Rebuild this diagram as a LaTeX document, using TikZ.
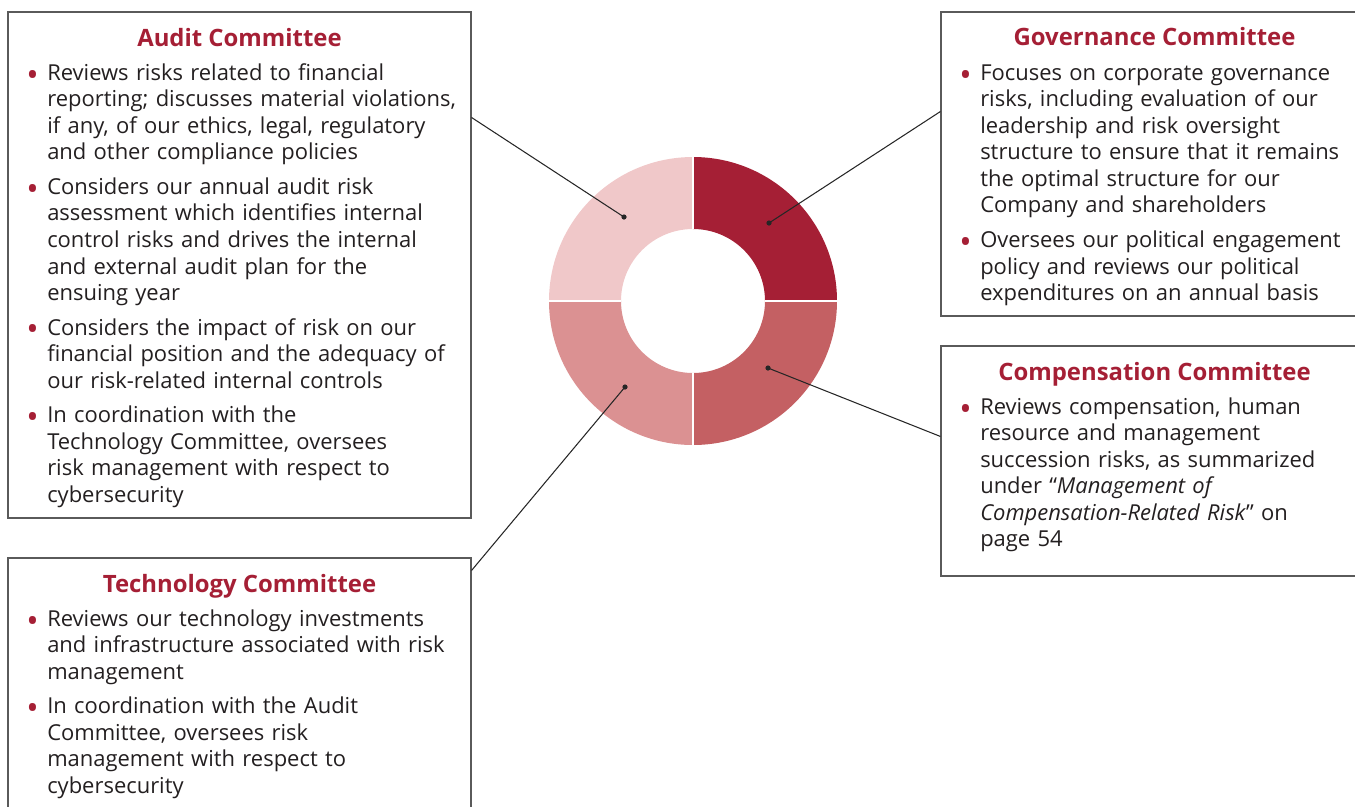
\documentclass[tikz,border=0pt]{standalone}
\usepackage{fontspec}
\setmainfont{Open Sans}
\usetikzlibrary{positioning,fit,calc}

\definecolor{comred}{HTML}{A51F35}
\definecolor{qaudit}{HTML}{F0C8C9}
\definecolor{qgov}{HTML}{A51F35}
\definecolor{qcomp}{HTML}{C46063}
\definecolor{qtech}{HTML}{DB9192}
\definecolor{bodygray}{HTML}{231F20}
\definecolor{framegray}{HTML}{5A5A5A}

\newcommand\bitem[1]{\noindent\makebox[11.9pt][l]{\raisebox{-3.3pt}{\scalebox{1.5}{\textcolor{comred}{\textbullet}}}}%
  \begin{tabular}[t]{@{}l@{}}#1\end{tabular}\par\vspace{3.55pt}}

\begin{document}
\begin{tikzpicture}[x=0.02cm,y=-0.02cm,
    panel/.style={draw=framegray,line width=0.6pt,inner sep=0pt},
    ctitle/.style={anchor=base,inner sep=0pt,text=comred,font=\fontsize{13.6}{16}\selectfont\bfseries},
    cbody/.style={anchor=north west,inner sep=0pt,text=bodygray,text width=8.2cm,align=left,font=\fontsize{12.5}{15.1}\selectfont},
    pin/.style={draw=black!85,line width=0.6pt},
    dot/.style={fill=black!85}]
  \useasboundingbox (0,0) rectangle (1355,806);

  % donut
  \coordinate (hub) at (693,301);
  \fill[qgov]   ($(hub)+(0:72)$) -- ($(hub)+(0:144)$) arc[start angle=0,end angle=-90,radius=144] -- ($(hub)+(-90:72)$) arc[start angle=-90,end angle=0,radius=72] -- cycle;
  \fill[qaudit] ($(hub)+(-90:72)$) -- ($(hub)+(-90:144)$) arc[start angle=-90,end angle=-180,radius=144] -- ($(hub)+(180:72)$) arc[start angle=180,end angle=270,radius=72] -- cycle;
  \fill[qtech]  ($(hub)+(180:72)$) -- ($(hub)+(180:144)$) arc[start angle=180,end angle=90,radius=144] -- ($(hub)+(90:72)$) arc[start angle=90,end angle=180,radius=72] -- cycle;
  \fill[qcomp]  ($(hub)+(90:72)$) -- ($(hub)+(90:144)$) arc[start angle=90,end angle=0,radius=144] -- ($(hub)+(0:72)$) arc[start angle=0,end angle=90,radius=72] -- cycle;
  \draw[white,line width=0.9pt] ($(hub)+(-145,0)$) -- ($(hub)+(-72,0)$) ($(hub)+(72,0)$) -- ($(hub)+(145,0)$)
    ($(hub)+(0,-145)$) -- ($(hub)+(0,-72)$) ($(hub)+(0,72)$) -- ($(hub)+(0,145)$);

  % boxes
  \node[panel,fit={(8,12) (471,518)}] (audit) {};
  \node[panel,fit={(941,12) (1368,316)}] (gov) {};
  \node[panel,fit={(941,346) (1368,576)}] (comp) {};
  \node[panel,fit={(8,558) (471,830)}] (tech) {};

  \node[ctitle] (audit title) at (239.5,46) {Audit Committee};
  \node[ctitle] (gov title) at (1154.5,45) {Governance Committee};
  \node[ctitle] (comp title) at (1154.5,380) {Compensation Committee};
  \node[ctitle] (tech title) at (239.5,592) {Technology Committee};

  \node[cbody] (audit text) at (26,61.4) {%
    \bitem{Reviews risks related to financial\\reporting; discusses material violations,\\if any, of our ethics, legal, regulatory\\and other compliance policies}
    \bitem{Considers our annual audit risk\\assessment which identifies internal\\control risks and drives the internal\\and external audit plan for the\\ensuing year}
    \bitem{Considers the impact of risk on our\\financial position and the adequacy of\\our risk-related internal controls}
    \bitem{In coordination with the\\Technology Committee, oversees\\risk management with respect to\\cybersecurity}};
  \node[cbody] (gov text) at (959,61.4) {%
    \bitem{Focuses on corporate governance\\risks, including evaluation of our\\leadership and risk oversight\\structure to ensure that it remains\\the optimal structure for our\\Company and shareholders}
    \bitem{Oversees our political engagement\\policy and reviews our political\\expenditures on an annual basis}};
  \node[cbody] (comp text) at (959,395.4) {%
    \bitem{Reviews compensation, human\\resource and management\\succession risks, as summarized\\under ``\textit{Management of}\\\textit{Compensation-Related Risk}'' on\\page 54}};
  \node[cbody] (tech text) at (26,607.4) {%
    \bitem{Reviews our technology investments\\and infrastructure associated with risk\\management}
    \bitem{In coordination with the Audit\\Committee, oversees risk\\management with respect to\\cybersecurity}};

  % pins
  \coordinate (audit dot) at (624,217);
  \coordinate (gov dot) at (769,223);
  \coordinate (comp dot) at (768,368);
  \coordinate (tech dot) at (625,387);
  \coordinate (audit end) at ($(audit.north east)+(0,106)$);
  \coordinate (gov end) at ($(gov.north west)+(0,100)$);
  \coordinate (comp end) at ($(comp.north west)+(0,91)$);
  \coordinate (tech end) at ($(tech.north east)+(0,13)$);
  \foreach \c in {audit,gov,comp,tech}{
    \draw[pin] (\c\space dot) -- (\c\space end);
    \fill[dot] (\c\space dot) circle (2.6);
  }
\end{tikzpicture}
\end{document}
